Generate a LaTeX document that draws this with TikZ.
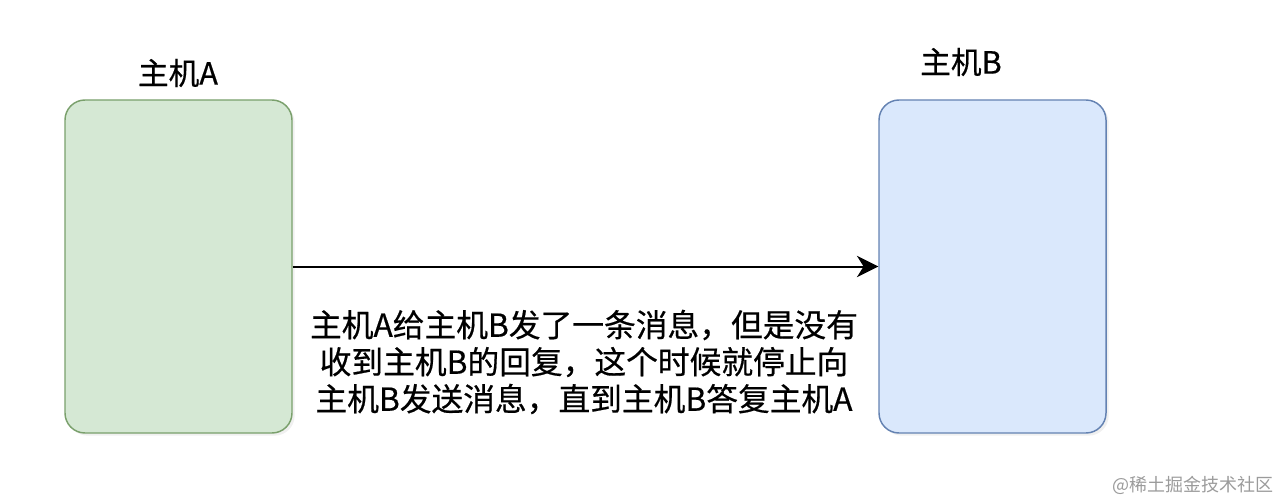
\documentclass[tikz,border=0pt]{standalone}
\usepackage{fontspec}
\setmainfont{Noto Sans CJK SC}[BoldFont={Noto Sans CJK SC}, BoldFeatures={FakeBold=0.5}]
\usetikzlibrary{arrows.meta,shadows}
\tikzset{every picture/.style={line width=0.75pt}}
\definecolor{hostAfill}{RGB}{213,232,212}
\definecolor{hostAdraw}{RGB}{122,160,108}
\definecolor{hostBfill}{RGB}{218,232,252}
\definecolor{hostBdraw}{RGB}{100,130,178}
\definecolor{markgray}{RGB}{155,155,155}

\begin{document}
\begin{tikzpicture}[x=0.75pt,y=0.75pt,yscale=-1,xscale=1,
  host/.style={draw, line width=1.1pt, rounded corners=15pt, minimum width=170.25pt, minimum height=249.75pt,
    drop shadow={opacity=0.12, shadow xshift=2pt, shadow yshift=-2pt}},
  hostlabel/.style={inner sep=0.75pt, font=\bfseries\fontsize{23}{27}\selectfont}]
\useasboundingbox (0,0) rectangle (1280,502);

%Shape: Rectangle [id:hostA]
\node [host, fill=hostAfill, draw=hostAdraw] (hostA) at (178.5,266.5) {};
%Shape: Rectangle [id:hostB]
\node [host, fill=hostBfill, draw=hostBdraw] (hostB) at (992.5,266.5) {};

%Straight Lines [id:send]
\draw [line width=1.5pt, -{Stealth[length=16pt,width=16pt,inset=5pt]}] (hostA.east) -- (hostB.west) ;

% Text Node
\node [hostlabel] (labelA) at (178,73) {主机A};
% Text Node
\node [hostlabel] (labelB) at (961,62) {主机B};
% Text Node
\node [inner sep=0.75pt, align=center, font=\bfseries\fontsize{23.8}{27.75}\selectfont] (msg) at (584,362)
  {主机A给主机B发了一条消息，但是没有\\收到主机B的回复，这个时候就停止向\\主机B发送消息，直到主机B答复主机A};
% Text Node
\node [inner sep=0.75pt, text=markgray, font=\fontsize{13.5}{16}\selectfont] (mark) at (1193,485) {@稀土掘金技术社区};

\end{tikzpicture}
\end{document}
